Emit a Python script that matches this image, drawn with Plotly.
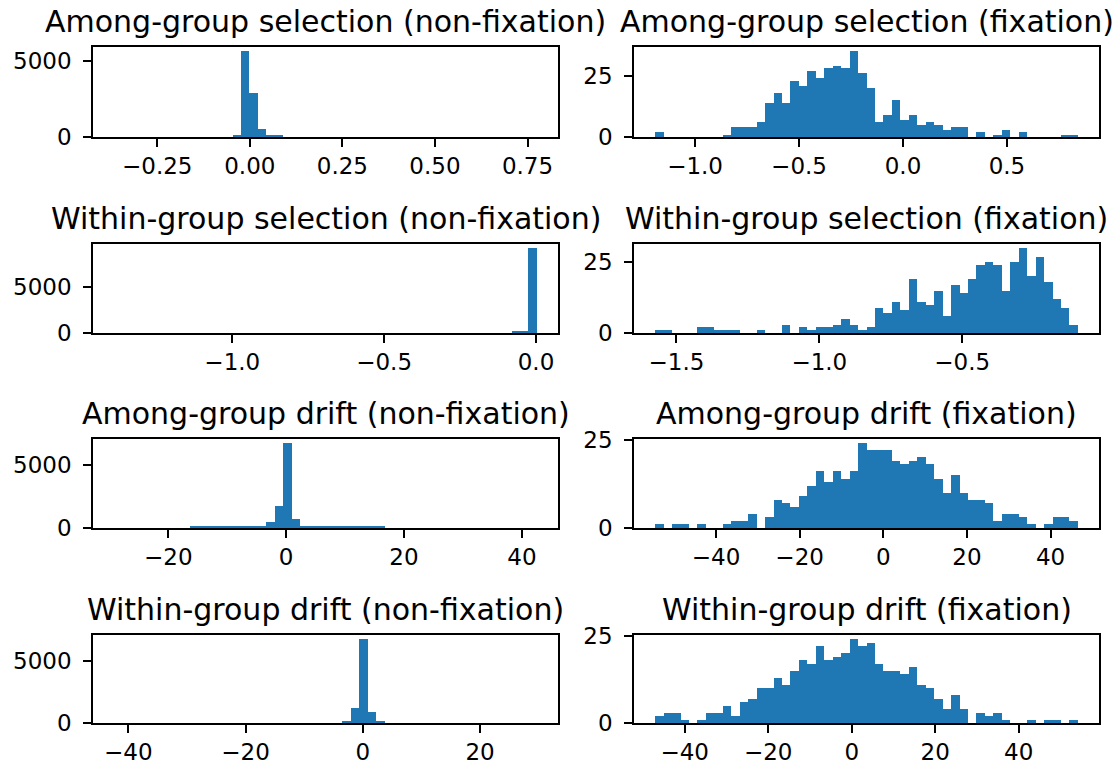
import numpy as np
import plotly.graph_objects as go

# ---------------- data (50-bin histograms) ----------------
titles = [
    "Among-group selection (non-fixation)", "Among-group selection (fixation)",
    "Within-group selection (non-fixation)", "Within-group selection (fixation)",
    "Among-group drift (non-fixation)", "Among-group drift (fixation)",
    "Within-group drift (non-fixation)", "Within-group drift (fixation)",
]

# data range (first bin left edge, last bin right edge) of each histogram
ag_sel_nonfix_range = [-0.3664, 0.7753]
ag_sel_fix_range = [-1.192, 0.841]
wg_sel_nonfix_range = [-1.389, 0.0029]
wg_sel_fix_range = [-1.5747, -0.095]
ag_drift_nonfix_range = [-29.18, 42.54]
ag_drift_fix_range = [-54.55, 46.52]
wg_drift_nonfix_range = [-42.42, 29.68]
wg_drift_fix_range = [-47.09, 54.18]

ag_sel_nonfix = [0, 0, 0, 0, 0, 0, 0, 0, 0, 0,
                 0, 0, 0, 0, 110, 5650, 2900, 510, 150, 130,
                 0, 0, 0, 0, 0, 0, 0, 0, 0, 0,
                 0, 0, 0, 0, 0, 0, 0, 0, 0, 0,
                 0, 0, 0, 0, 0, 0, 0, 0, 0, 0]
ag_sel_fix = [2, 0, 0, 0, 0, 0, 0, 0, 1, 4,
              4, 4, 6, 14, 18, 14, 23, 21, 27, 24,
              28, 29, 28, 35, 26, 20, 6, 9, 15, 7,
              9, 5, 6, 5, 3, 4, 4, 0, 2, 0,
              1, 3, 0, 2, 0, 0, 0, 0, 1, 1]
wg_sel_nonfix = [0, 0, 0, 0, 0, 0, 0, 0, 0, 0,
                 0, 0, 0, 0, 0, 0, 0, 0, 0, 0,
                 0, 0, 0, 0, 0, 0, 0, 0, 0, 0,
                 0, 0, 0, 0, 0, 0, 0, 0, 0, 0,
                 0, 0, 0, 0, 0, 0, 0, 200, 210, 9250]
wg_sel_fix = [1, 1, 0, 0, 0, 2, 2, 1, 1, 1,
              0, 0, 1, 0, 0, 3, 0, 2, 1, 2,
              2, 3, 5, 3, 1, 2, 9, 7, 11, 8,
              19, 11, 10, 15, 6, 17, 14, 19, 24, 25,
              24, 15, 25, 30, 20, 27, 18, 12, 9, 3]
ag_drift_nonfix = [0, 0, 0, 0, 0, 0, 0, 0, 0, 90,
                   95, 90, 95, 100, 95, 100, 100, 110, 470, 1710,
                   6700, 725, 110, 100, 100, 95, 100, 95, 90, 95,
                   90, 90, 0, 0, 0, 0, 0, 0, 0, 0,
                   0, 0, 0, 0, 0, 0, 0, 0, 0, 0]
ag_drift_fix = [1, 0, 1, 1, 0, 1, 0, 0, 1, 2,
                2, 4, 0, 3, 8, 7, 6, 9, 12, 16,
                13, 16, 14, 16, 24, 22, 22, 22, 19, 18,
                19, 20, 18, 14, 10, 15, 10, 8, 8, 7,
                2, 4, 4, 3, 1, 0, 1, 3, 3, 2]
wg_drift_nonfix = [0, 0, 0, 0, 0, 0, 0, 0, 0, 0,
                   0, 0, 0, 0, 0, 0, 0, 0, 0, 0,
                   0, 0, 0, 0, 0, 0, 0, 185, 1190, 6750,
                   850, 185, 0, 0, 0, 0, 0, 0, 0, 0,
                   0, 0, 0, 0, 0, 0, 0, 0, 0, 0]
wg_drift_fix = [2, 3, 3, 1, 0, 1, 3, 3, 5, 2,
                6, 7, 10, 10, 13, 11, 15, 18, 17, 22,
                18, 19, 20, 24, 22, 23, 17, 15, 15, 14,
                16, 11, 10, 7, 4, 8, 4, 0, 3, 2,
                3, 1, 0, 0, 1, 0, 1, 1, 0, 1]

# tick labels
x_ticks = [
    [-0.25, 0.0, 0.25, 0.5, 0.75], [-1.0, -0.5, 0.0, 0.5],
    [-1.0, -0.5, 0.0], [-1.5, -1.0, -0.5],
    [-20, 0, 20, 40], [-40, -20, 0, 20, 40],
    [-40, -20, 0, 20], [-40, -20, 0, 20, 40],
]
x_fmt = ["{:.2f}", "{:.1f}", "{:.1f}", "{:.1f}", "{:.0f}", "{:.0f}", "{:.0f}", "{:.0f}"]
y_ticks_left = [0, 5000]
y_ticks_right = [0, 25]

counts = [ag_sel_nonfix, ag_sel_fix, wg_sel_nonfix, wg_sel_fix,
          ag_drift_nonfix, ag_drift_fix, wg_drift_nonfix, wg_drift_fix]
ranges = [ag_sel_nonfix_range, ag_sel_fix_range, wg_sel_nonfix_range, wg_sel_fix_range,
          ag_drift_nonfix_range, ag_drift_fix_range, wg_drift_nonfix_range, wg_drift_fix_range]

# ---------------- layout geometry ----------------
W, H = 1118, 765
col_px = [(93, 558), (634, 1099)]
row_px = [(47, 137), (244, 333), (439, 528), (635, 723)]
BAR = "#1f77b4"
FONT = "DejaVu Sans"
TICK_SIZE = 23
TITLE_SIZE = 30


def fmt(v, f):
    s = f.format(abs(v))
    return ("\u2212" + s) if v < 0 else s


fig = go.Figure()
layout = {}
annotations = []
for k in range(8):
    r, c = divmod(k, 2)
    ax = "" if k == 0 else str(k + 1)
    cnt = np.array(counts[k], dtype=float)
    lo, hi = ranges[k]
    edges = np.linspace(lo, hi, len(cnt) + 1)
    centers = (edges[:-1] + edges[1:]) / 2
    width = edges[1] - edges[0]
    fig.add_trace(go.Bar(
        x=centers, y=cnt, width=width, marker=dict(color=BAR, line=dict(width=0)),
        xaxis="x" + ax, yaxis="y" + ax, showlegend=False, hoverinfo="x+y",
    ))
    span = hi - lo
    x0, x1 = col_px[c]
    y0, y1 = row_px[r]
    ytv = y_ticks_left if c == 0 else y_ticks_right
    common = dict(
        showline=True, mirror=True, linecolor="black", linewidth=1.5,
        ticks="outside", ticklen=8, tickwidth=1.5, tickcolor="black",
        showgrid=False, zeroline=False, automargin=False,
        tickfont=dict(family=FONT, size=TICK_SIZE, color="black"),
    )
    layout["xaxis" + ax] = dict(
        domain=[x0 / W, x1 / W], anchor="y" + ax,
        range=[lo - 0.05 * span, hi + 0.05 * span],
        tickvals=x_ticks[k], ticktext=[fmt(v, x_fmt[k]) for v in x_ticks[k]],
        ticklabelstandoff=0, **common,
    )
    layout["yaxis" + ax] = dict(
        domain=[1 - y1 / H, 1 - y0 / H], anchor="x" + ax,
        range=[0, cnt.max() * 1.05],
        tickvals=ytv, ticktext=[str(v) for v in ytv],
        ticklabelstandoff=7, **common,
    )
    annotations.append(dict(
        text=titles[k], x=(x0 + x1) / 2 / W, y=1 - y0 / H,
        xref="paper", yref="paper", xanchor="center", yanchor="bottom",
        yshift=6, showarrow=False,
        font=dict(family=FONT, size=TITLE_SIZE, color="black"),
    ))

fig.update_layout(
    width=W, height=H, margin=dict(l=0, r=0, t=0, b=0),
    paper_bgcolor="white", plot_bgcolor="white",
    bargap=0, annotations=annotations, **layout,
)
fig.write_html("out.html", post_script="document.body.style.margin='0';",
               config={"displayModeBar": False})
